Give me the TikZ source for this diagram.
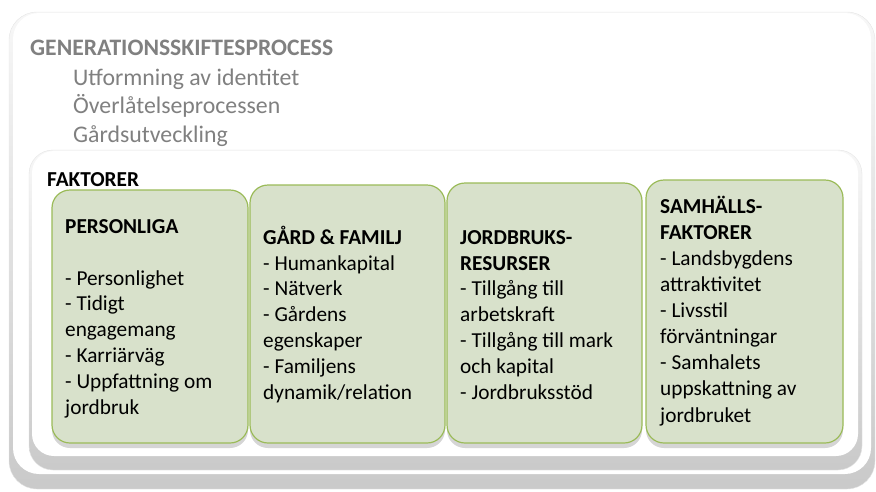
\documentclass[tikz,border=0pt]{standalone}
\usepackage{fontspec}
\setmainfont{Carlito}
\usetikzlibrary{shadows}
\definecolor{procgray}{RGB}{128,128,128}
\definecolor{boxgreen}{RGB}{216,225,203}
\definecolor{boxline}{RGB}{155,187,89}
\tikzset{
  bevel/.style={draw=gray!20, rounded corners=28pt, top color=gray!6, bottom color=gray!42},
  plate/.style={fill=white, draw=none, rounded corners=26pt},
  factorbox/.style={draw=boxline, line width=1.2pt, fill=boxgreen, rounded corners=18pt,
    drop shadow={shadow xshift=0pt, shadow yshift=-5pt, fill=gray!65}},
  factortext/.style={anchor=base west, inner sep=0pt, align=left,
    font=\fontsize{21.3}{25.8}\selectfont},
  steptext/.style={anchor=base west, inner sep=0pt, align=left, text=procgray,
    font=\fontsize{23.8}{28.5}\selectfont},
}
\begin{document}
\begin{tikzpicture}[x=1pt, y=-1pt]
    \useasboundingbox (0,0) rectangle (876,491);
    % generationsskifte
    \draw [bevel] (9,12) rectangle (875,489);
    \draw [plate] (13,13) rectangle (871,474);
    \node [steptext, font=\fontsize{23.6}{28.5}\selectfont\bfseries] (proc) at (30,55) {GENERATIONSSKIFTESPROCESS};
    \node [steptext] (steps) at (73,142) {Utformning av identitet\\Överlåtelseprocessen\\Gårdsutveckling};
    
    % faktorer
    \draw [bevel, rounded corners=24pt] (29,150) rectangle (862,470);
    \draw [plate, rounded corners=22pt] (32,151) rectangle (858,456);
    \node [factortext, font=\fontsize{21.3}{25.8}\selectfont\bfseries] (fakt) at (47,186) {FAKTORER};
    
    \draw [factorbox] (52,190) rectangle (248,443);
    \node [factortext] (pers) at (65,414) {\textbf{PERSONLIGA}\\[25.8pt]- Personlighet\\- Tidigt\\engagemang\\- Karriärväg\\- Uppfattning om\\jordbruk};
    
    \draw [factorbox] (250,185) rectangle (445,443);
    \node [factortext] (fam) at (263,399) {\textbf{GÅRD \& FAMILJ}\\- Humankapital\\- Nätverk\\- Gårdens\\egenskaper\\- Familjens\\dynamik/relation};
    
    \draw [factorbox] (447,183) rectangle (642,443);
    \node [factortext] (jord) at (460,399) {\textbf{JORDBRUKS-}\\\textbf{RESURSER}\\- Tillgång till\\arbetskraft\\- Tillgång till mark\\och kapital\\- Jordbruksstöd};
    
    \draw [factorbox] (646,180) rectangle (843,443);
    \node [factortext, font=\fontsize{21.3}{26.1}\selectfont] (samh) at (660,422) {\textbf{SAMHÄLLS-}\\\textbf{FAKTORER}\\- Landsbygdens\\attraktivitet\\- Livsstil\\förväntningar\\- Samhalets\\uppskattning av\\jordbruket};
    
\end{tikzpicture}
\end{document}
